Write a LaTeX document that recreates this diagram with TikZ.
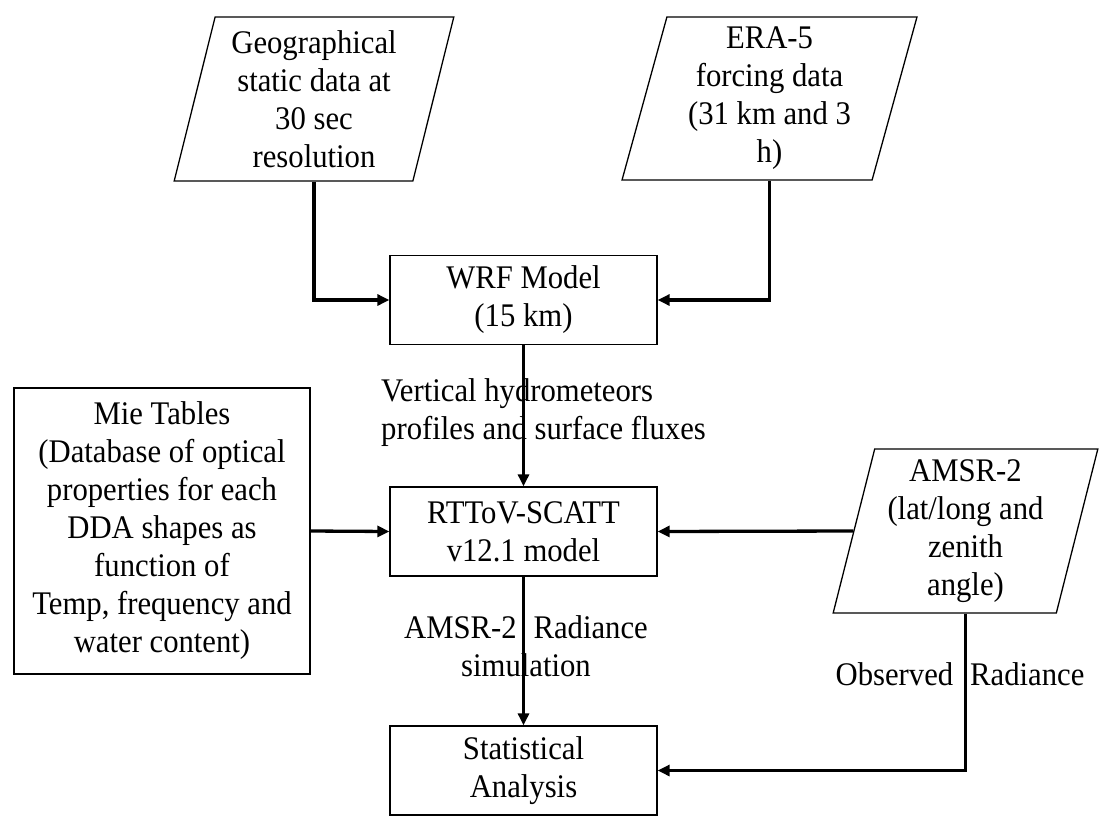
\documentclass[tikz,border=0pt]{standalone}
\usepackage{fontspec}
\setmainfont{Liberation Serif}[FakeStretch=0.93]
\usetikzlibrary{shapes.geometric,arrows.meta}
\begin{document}
\begin{tikzpicture}[x=1pt,y=-1pt,
  every node/.style={font=\fontsize{33}{38}\selectfont, inner sep=0pt},
  procbox/.style={draw, line width=1.3pt, align=center, minimum width=267pt, minimum height=89pt},
  databox/.style={trapezium, trapezium left angle=76, trapezium right angle=104,
    trapezium stretches=true, draw, line width=1.3pt, align=center},
  conn/.style={line width=3.3pt, -{Triangle[length=12pt,width=11pt]}},
  lbl/.style={align=center}]
\useasboundingbox[fill=white] (0,0) rectangle (1119,827);

\node[databox, minimum width=280pt, minimum height=164pt] (geo) at (314,99)
  {Geographical\\static data at\\30 sec\\resolution};
\node[databox, minimum width=295pt, minimum height=163pt] (era) at (769.5,98.5)
  {ERA-5\\forcing data\\(31 km and 3\\h)};
\node[procbox] (wrf) at (523.5,300) {WRF Model\\(15 km)};
\node[draw, line width=1.3pt, align=center, minimum width=296pt, minimum height=286pt] (mie) at (162,531)
  {Mie Tables\\(Database of optical\\properties for each\\DDA shapes as\\function of\\Temp, frequency and\\water content)};
\node[procbox] (rtt) at (523.5,531.5) {RTToV-SCATT\\v12.1 model};
\node[databox, minimum width=265pt, minimum height=164pt] (amsr) at (965.5,531)
  {AMSR-2\\(lat/long and\\zenith\\angle)};
\node[procbox] (stat) at (523.5,770.5) {Statistical\\Analysis};

\node[anchor=west, align=left] (lab1) at (381,413) {Vertical hydrometeors\\profiles and surface fluxes};
\node[lbl] (lab2) at (526,646) {AMSR-2\hspace{17pt}Radiance\\simulation};
\node[lbl] (lab3) at (960,674) {Observed\hspace{17pt}Radiance};

\draw[conn] (geo.south) |- (wrf.west);
\draw[conn] (era.south) |- (wrf.east);
\draw[conn] (wrf.south) -- (rtt.north);
\draw[conn] (mie.east) -- (rtt.west);
\draw[conn] (amsr.left side) -- (rtt.east);
\draw[conn] (rtt.south) -- (stat.north);
\draw[conn] (amsr.south) |- (stat.east);
\end{tikzpicture}
\end{document}
